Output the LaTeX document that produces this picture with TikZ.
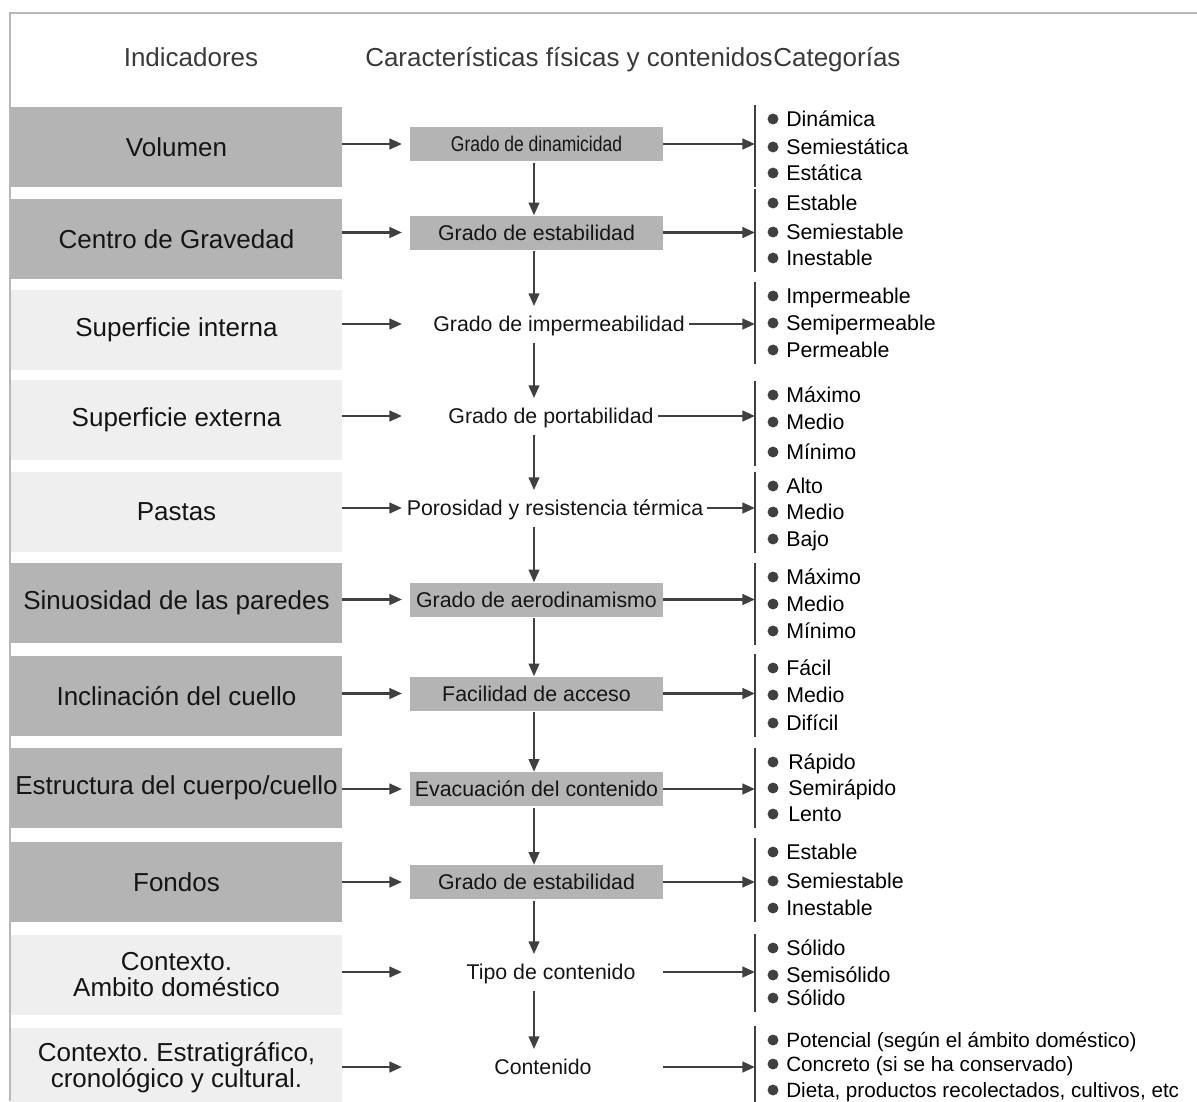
\documentclass[tikz,border=0pt]{standalone}
\usepackage{fontspec}
\setmainfont{Liberation Sans}
\usetikzlibrary{arrows.meta}
\frenchspacing
\definecolor{boxdark}{HTML}{B4B4B4}
\definecolor{boxlight}{HTML}{EFEFEF}
\definecolor{linegray}{HTML}{404040}
\definecolor{framegray}{HTML}{B8B8B8}
\definecolor{headgray}{HTML}{3A3A3A}
\definecolor{textgray}{HTML}{151515}

\begin{document}
\begin{tikzpicture}[
x=0.75pt, y=-0.75pt,
>={Triangle[length=9.5pt,width=8pt]},
head/.style={inner sep=0pt, text height=16pt, text depth=2pt, font=\fontsize{19.5}{22}\selectfont, text=headgray},
indic/.style={rectangle, minimum width=248.25pt, minimum height=60pt, inner sep=0pt, align=center, font=\fontsize{19.5}{19.5}\selectfont, text=textgray},
dark/.style={indic, fill=boxdark},
light/.style={indic, fill=boxlight},
feature/.style={rectangle, fill=boxdark, minimum width=189.75pt, minimum height=25.5pt, inner sep=0pt, text height=13pt, text depth=1.6pt, font=\fontsize{16}{19}\selectfont, text=textgray},
plain/.style={rectangle, inner xsep=3pt, inner ysep=6pt, text height=13pt, text depth=1.6pt, font=\fontsize{16}{19}\selectfont, text=textgray},
cat/.style={anchor=west, inner sep=0pt, text height=13pt, text depth=1.6pt, font=\fontsize{16}{19}\selectfont, text=black},
small/.style={cat, text height=12.6pt, text depth=1.5pt, font=\fontsize{15.5}{18}\selectfont},
link/.style={->, draw=linegray, line width=1.8pt},
flow/.style={->, draw=linegray, line width=1.5pt, shorten <=1pt},
brace/.style={draw=linegray, line width=1.5pt},
dot/.style={fill=linegray}
]

\useasboundingbox (0,0) rectangle (1197,1101);
\draw[framegray, line width=1.5pt] (10,1101) -- (10,13) -- (1197,13);

% column headers
\node[head] (hind) at (191,57) {Indicadores};
\node[head, anchor=west] (hcar) at (365,57) {Características físicas y contenidos};
\node[head, anchor=west] (hcat) at (hcar.east) {Categorías};

% guide columns
\coordinate (ax) at (402,0);
\coordinate (vx) at (534,0);
\coordinate (rx) at (663,0);
\coordinate (bx) at (755,0);

% indicators
\node[dark] (vol) at (176.5,147) {Volumen};
\node[dark] (grav) at (176.5,239) {Centro de Gravedad};
\node[light] (sint) at (176.5,330) {Superficie interna};
\node[light] (sext) at (176.5,420) {Superficie externa};
\node[light] (past) at (176.5,512) {Pastas};
\node[dark] (sinu) at (176.5,603) {Sinuosidad de las paredes};
\node[dark] (incl) at (176.5,696) {Inclinación del cuello};
\node[dark] (estr) at (176.5,788) {Estructura del cuerpo/cuello};
\node[dark] (fond) at (176.5,882) {Fondos};
\node[light] (cdom) at (176.5,975) {Contexto.\\Ambito doméstico};
\node[light] (cest) at (176.5,1068) {Contexto. Estratigráfico,\\cronológico y cultural.};

% physical features and contents
\node[feature] (dina) at (536.5,144) {\scalebox{0.82}[1]{Grado de dinamicidad}};
\node[feature] (esta) at (536.5,232.5) {Grado de estabilidad};
\node[plain] (impe) at (559,324) {Grado de impermeabilidad};
\node[plain] (port) at (551,416) {Grado de portabilidad};
\node[plain] (poro) at (555,508) {Porosidad y resistencia térmica};
\node[feature] (aero) at (536.5,599.5) {Grado de aerodinamismo};
\node[feature] (faci) at (536.5,693.5) {Facilidad de acceso};
\node[feature] (evac) at (536.5,789) {Evacuación del contenido};
\node[feature] (estb) at (536.5,882) {Grado de estabilidad};
\node[plain] (tipo) at (551,972) {Tipo de contenido};
\node[plain] (cont) at (543,1067) {Contenido};

% categories
\node[cat] (c1-a) at (786,119) {Dinámica};
\node[cat] (c1-b) at (786,147) {Semiestática};
\node[cat] (c1-c) at (786,173) {Estática};
\node[cat] (c2-a) at (786,203) {Estable};
\node[cat] (c2-b) at (786,232) {Semiestable};
\node[cat] (c2-c) at (786,258) {Inestable};
\node[cat] (c3-a) at (786,296) {Impermeable};
\node[cat] (c3-b) at (786,323) {Semipermeable};
\node[cat] (c3-c) at (786,350) {Permeable};
\node[cat] (c4-a) at (786,395) {Máximo};
\node[cat] (c4-b) at (786,422) {Medio};
\node[cat] (c4-c) at (786,452) {Mínimo};
\node[cat] (c5-a) at (786,486) {Alto};
\node[cat] (c5-b) at (786,512) {Medio};
\node[cat] (c5-c) at (786,539) {Bajo};
\node[cat] (c6-a) at (786,577) {Máximo};
\node[cat] (c6-b) at (786,604) {Medio};
\node[cat] (c6-c) at (786,631) {Mínimo};
\node[cat] (c7-a) at (786,668) {Fácil};
\node[cat] (c7-b) at (786,695) {Medio};
\node[cat] (c7-c) at (786,723) {Difícil};
\node[cat] (c8-a) at (788,762) {Rápido};
\node[cat] (c8-b) at (788,788) {Semirápido};
\node[cat] (c8-c) at (788,814) {Lento};
\node[cat] (c9-a) at (786,852) {Estable};
\node[cat] (c9-b) at (786,881) {Semiestable};
\node[cat] (c9-c) at (786,908) {Inestable};
\node[cat] (c10-a) at (786,948) {Sólido};
\node[cat] (c10-b) at (786,975) {Semisólido};
\node[cat] (c10-c) at (786,998) {Sólido};
\node[small] (c11-a) at (786,1040) {Potencial (según el ámbito doméstico)};
\node[small] (c11-b) at (786,1064) {Concreto (si se ha conservado)};
\node[small] (c11-c) at (786,1090) {Dieta, productos recolectados, cultivos, etc};

\foreach \g in {1,...,11} {
  \draw[brace] ([yshift=3pt]c\g-a.north -| bx) -- ([yshift=-3pt]c\g-c.south -| bx);
  \foreach \i in {a,b,c}
    \fill[dot] (c\g-\i.west -| bx) ++(18,0) circle (4.1pt);
}

% indicators to features
\draw[link] (vol.east |- dina) -- (ax |- dina);
\draw[link] (grav.east |- esta) -- (ax |- esta);
\draw[link] (sint.east |- impe) -- (ax |- impe);
\draw[link] (sext.east |- port) -- (ax |- port);
\draw[link] (past.east |- poro) -- (ax |- poro);
\draw[link] (sinu.east |- aero) -- (ax |- aero);
\draw[link] (incl.east |- faci) -- (ax |- faci);
\draw[link] (estr.east |- evac) -- (ax |- evac);
\draw[link] (fond.east |- estb) -- (ax |- estb);
\draw[link] (cdom.east |- tipo) -- (ax |- tipo);
\draw[link] (cest.east |- cont) -- (ax |- cont);

% chain of features
\draw[flow] (dina.south -| vx) -- (esta.north -| vx);
\draw[flow] (esta.south -| vx) -- (impe.north -| vx);
\draw[flow] (impe.south -| vx) -- (port.north -| vx);
\draw[flow] (port.south -| vx) -- (poro.north -| vx);
\draw[flow] (poro.south -| vx) -- (aero.north -| vx);
\draw[flow] (aero.south -| vx) -- (faci.north -| vx);
\draw[flow] (faci.south -| vx) -- (evac.north -| vx);
\draw[flow] (evac.south -| vx) -- (estb.north -| vx);
\draw[flow] (estb.south -| vx) -- (tipo.north -| vx);
\draw[flow] (tipo.south -| vx) -- (cont.north -| vx);

% features to categories
\draw[link] (dina.east) -- (bx |- dina);
\draw[link] (esta.east) -- (bx |- esta);
\draw[link] (impe.east) -- (bx |- impe);
\draw[link] (port.east) -- (bx |- port);
\draw[link] (poro.east) -- (bx |- poro);
\draw[link] (aero.east) -- (bx |- aero);
\draw[link] (faci.east) -- (bx |- faci);
\draw[link] (evac.east) -- (bx |- evac);
\draw[link] (estb.east) -- (bx |- estb);
\draw[link] (rx |- tipo) -- (bx |- tipo);
\draw[link] (rx |- cont) -- (bx |- cont);

\end{tikzpicture}
\end{document}
